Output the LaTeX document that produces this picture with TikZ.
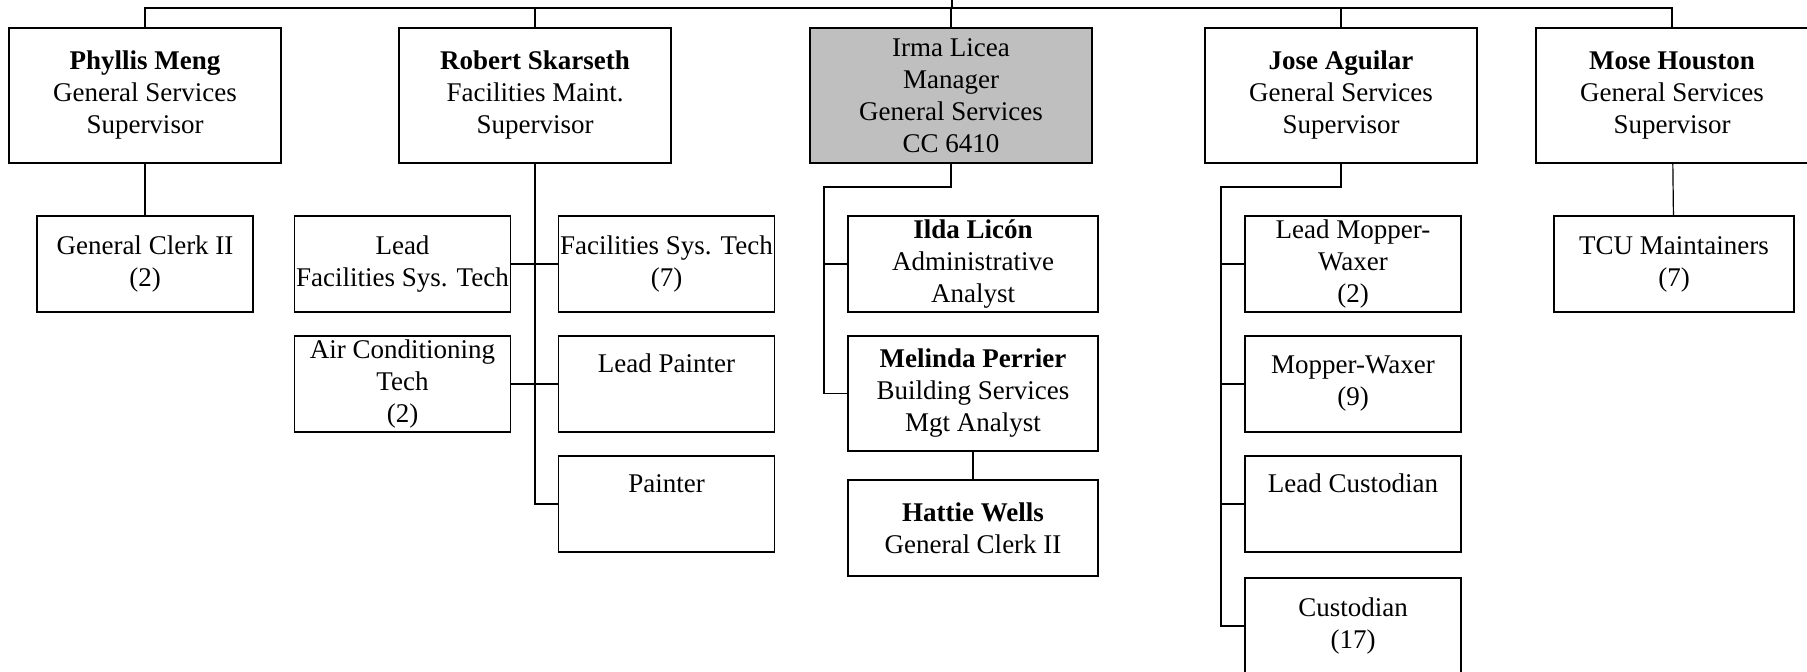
\documentclass[tikz,border=0pt]{standalone}
\usepackage{fontspec}
\setmainfont{Liberation Serif}

\begin{document}
\begin{tikzpicture}[x=0.5pt,y=-0.5pt]

\tikzstyle{box}=[draw,line width=0.7pt,fill=white,inner sep=0pt,align=center,minimum width=108pt,minimum height=48pt,font=\fontsize{13.5}{16}\selectfont]
\tikzstyle{wide box}=[box,minimum width=125pt]
\tikzstyle{head}=[box,minimum width=136pt,minimum height=67.5pt]
\tikzstyle{selected head}=[head,fill=black!25,minimum width=141pt]
\tikzstyle{edge}=[line width=0.6pt]

\useasboundingbox(0,0)rectangle(1807,672);

% top row
\node[head](phyllis)at(145,95.5){\textbf{Phyllis Meng}\\General Services\\Supervisor};
\node[head](robert)at(535,95.5){\textbf{Robert Skarseth}\\Facilities Maint.\\Supervisor};
\node[selected head](irma)at(951,95.5){Irma Licea\\Manager\\General Services\\CC 6410};
\node[head](jose)at(1341,95.5){\textbf{Jose Aguilar}\\General Services\\Supervisor};
\node[head](mose)at(1672,95.5){\textbf{Mose Houston}\\General Services\\Supervisor};

\node[box](gc)at(145,264){General Clerk II\\(2)};

\node[box](lfst)at(402.5,264){Lead\\Facilities Sys. Tech};
\node[box](fst)at(666.5,264){Facilities Sys. Tech\\(7)};
\node[box](act)at(402.5,384){Air Conditioning\\Tech\\(2)};
\node[box](lpaint)at(666.5,384){Lead Painter\\\strut};
\node[box](paint)at(666.5,504){Painter\\\strut};

\node[wide box](ilda)at(973,264){\textbf{Ilda Licón}\\Administrative\\Analyst};
\node[wide box,minimum height=57.5pt](melinda)at(973,393.5){\textbf{Melinda Perrier}\\Building Services\\Mgt Analyst};
\node[wide box](hattie)at(973,528){\textbf{Hattie Wells}\\General Clerk II};

\node[box](lmw)at(1353,264){Lead Mopper-\\Waxer\\(2)};
\node[box](mw)at(1353,384){Mopper-Waxer\\(9)};
\node[box](lcust)at(1353,504){Lead Custodian\\\strut};
\node[box](cust)at(1353,626){Custodian\\(17)};

\node[box,minimum width=120pt](tcu)at(1674,264){TCU Maintainers\\(7)};

\coordinate(top)at(952,-4);
\coordinate(bar)at(952,8);
\coordinate(ispine)at(824,187);
\coordinate(jspine)at(1221,187);

\draw[edge](top)--(bar);
\draw[edge](phyllis.north)|-(bar)-|(mose.north);
\draw[edge](robert.north)|-(bar);
\draw[edge](irma.north)|-(bar);
\draw[edge](jose.north)|-(bar);

\draw[edge](phyllis)--(gc);
\draw[edge](robert.south)|-(paint.west);
\draw[edge](lfst)--(fst);
\draw[edge](act)--(lpaint);

\draw[edge](irma.south)|-(ispine)|-(melinda.west);
\draw[edge](ilda.west)--(ilda.west-|ispine);
\draw[edge](melinda)--(hattie);

\draw[edge](jose.south)|-(jspine)|-(cust.west);
\foreach \n in {lmw,mw,lcust}
  \draw[edge](\n.west)--(\n.west-|jspine);

\draw[edge](mose)--(tcu);

\end{tikzpicture}
\end{document}
